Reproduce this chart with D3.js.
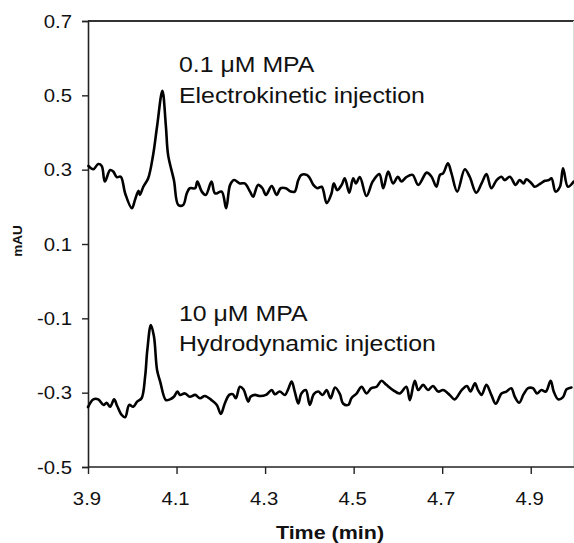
<!DOCTYPE html>
<html>
<head>
<meta charset="utf-8">
<script src="https://cdn.jsdelivr.net/npm/d3@7"></script>
<style>
  html, body { margin: 0; padding: 0; background: #fff; }
  svg { display: block; }
  text { font-family: "Liberation Sans", Arial, Helvetica, sans-serif; fill: #111; }
</style>
</head>
<body>
<svg id="chart" width="574" height="543"></svg>
<script>
// ---------------- data ----------------
const xTicks = [3.9, 4.1, 4.3, 4.5, 4.7, 4.9];
const yTicks = [0.7, 0.5, 0.3, 0.1, -0.1, -0.3, -0.5];
const xLabel = "Time (min)";
const yLabel = "mAU";
const annotations = [
  ["0.1 \u03bcM MPA", "Electrokinetic injection"],
  ["10 \u03bcM MPA", "Hydrodynamic injection"]
];

// Electrokinetic injection trace (time, mAU)
const electroTime = [3.901,3.912,3.923,3.931,3.938,3.950,3.957,3.965,3.974,3.984,3.999,4.006,4.014,4.017,4.025,4.036,4.047,4.056,4.068,4.076,4.081,4.094,4.104,4.115,4.123,4.130,4.142,4.147,4.157,4.166,4.179,4.187,4.202,4.212,4.221,4.230,4.243,4.254,4.266,4.273,4.284,4.294,4.302,4.315,4.326,4.335,4.347,4.358,4.367,4.375,4.382,4.394,4.401,4.409,4.418,4.428,4.439,4.450,4.455,4.463,4.473,4.480,4.490,4.499,4.505,4.514,4.529,4.543,4.558,4.567,4.578,4.589,4.600,4.608,4.619,4.633,4.646,4.665,4.676,4.687,4.695,4.702,4.713,4.721,4.734,4.751,4.762,4.777,4.789,4.800,4.811,4.823,4.834,4.841,4.853,4.866,4.875,4.884,4.890,4.902,4.909,4.920,4.932,4.941,4.947,4.956,4.966,4.973,4.984,4.997];
const electroValue = [0.310,0.301,0.315,0.310,0.268,0.299,0.295,0.280,0.281,0.236,0.196,0.218,0.243,0.232,0.254,0.277,0.339,0.416,0.512,0.416,0.339,0.272,0.205,0.205,0.236,0.250,0.250,0.268,0.241,0.232,0.268,0.236,0.241,0.196,0.259,0.272,0.263,0.263,0.241,0.227,0.259,0.250,0.232,0.256,0.232,0.250,0.250,0.241,0.241,0.272,0.286,0.286,0.277,0.259,0.250,0.254,0.210,0.236,0.263,0.245,0.259,0.277,0.238,0.277,0.263,0.280,0.229,0.268,0.288,0.250,0.295,0.263,0.281,0.268,0.280,0.286,0.259,0.292,0.281,0.254,0.286,0.290,0.317,0.290,0.241,0.301,0.281,0.238,0.263,0.288,0.250,0.272,0.281,0.272,0.281,0.259,0.272,0.263,0.274,0.263,0.254,0.261,0.270,0.272,0.277,0.241,0.254,0.304,0.254,0.268];

// Hydrodynamic injection trace (time, mAU)
const hydroTime = [3.900,3.912,3.923,3.935,3.942,3.950,3.959,3.966,3.976,3.984,3.993,4.002,4.011,4.021,4.029,4.034,4.042,4.049,4.056,4.063,4.076,4.085,4.094,4.102,4.108,4.119,4.130,4.142,4.153,4.164,4.179,4.191,4.200,4.209,4.219,4.227,4.234,4.243,4.251,4.262,4.267,4.277,4.288,4.302,4.315,4.322,4.333,4.345,4.352,4.360,4.367,4.375,4.382,4.392,4.401,4.410,4.420,4.430,4.439,4.448,4.458,4.469,4.476,4.488,4.495,4.507,4.518,4.529,4.540,4.552,4.563,4.574,4.589,4.604,4.619,4.627,4.638,4.646,4.657,4.668,4.679,4.691,4.702,4.717,4.728,4.744,4.756,4.764,4.774,4.781,4.789,4.800,4.811,4.821,4.834,4.845,4.856,4.864,4.874,4.884,4.894,4.905,4.914,4.924,4.934,4.945,4.952,4.962,4.973,4.981,4.992];
const hydroValue = [-0.339,-0.318,-0.318,-0.333,-0.327,-0.338,-0.318,-0.336,-0.360,-0.366,-0.333,-0.338,-0.324,-0.315,-0.257,-0.185,-0.118,-0.149,-0.239,-0.270,-0.320,-0.318,-0.311,-0.297,-0.306,-0.302,-0.311,-0.306,-0.315,-0.309,-0.320,-0.333,-0.357,-0.329,-0.306,-0.304,-0.315,-0.284,-0.291,-0.324,-0.311,-0.306,-0.309,-0.306,-0.293,-0.304,-0.297,-0.306,-0.291,-0.270,-0.297,-0.329,-0.302,-0.293,-0.333,-0.304,-0.297,-0.306,-0.293,-0.315,-0.286,-0.304,-0.329,-0.333,-0.315,-0.302,-0.284,-0.302,-0.288,-0.284,-0.268,-0.279,-0.293,-0.302,-0.284,-0.320,-0.268,-0.293,-0.279,-0.293,-0.282,-0.297,-0.293,-0.306,-0.318,-0.293,-0.282,-0.297,-0.275,-0.293,-0.306,-0.279,-0.306,-0.330,-0.302,-0.297,-0.288,-0.311,-0.327,-0.304,-0.288,-0.288,-0.302,-0.293,-0.297,-0.268,-0.297,-0.318,-0.312,-0.291,-0.286];

// ---------------- drawing ----------------
(function () {
const svg = d3.select("#chart");
const SX = 1.13; // horizontal stretch of the lettering in the reference
const mLeft = 88, mRight = 575, mTop = 21, mBottom = 467;

const x = d3.scaleLinear().domain([3.9, 5.0]).range([mLeft, mRight]);
const y = d3.scaleLinear().domain([-0.5, 0.7]).range([mBottom, mTop]);
const fmt = v => d3.format(".1f")(v).replace("\u2212", "-");

function stretchedText(g, px, py, str, opts) {
  const t = g.append("g").attr("transform", `translate(${px},${py}) scale(${SX},1)`)
    .append("text").text(str);
  Object.entries(opts || {}).forEach(([k, v]) => t.style(k, v));
  return t;
}

// top frame line
svg.append("line")
  .attr("x1", mLeft).attr("x2", 574).attr("y1", mTop).attr("y2", mTop)
  .attr("stroke", "#333").attr("stroke-width", 1.8);
// faint right frame
svg.append("line")
  .attr("x1", 573.5).attr("x2", 573.5).attr("y1", mTop).attr("y2", mBottom)
  .attr("stroke", "#ddd").attr("stroke-width", 1);

// Y axis
const yAxis = svg.append("g").attr("transform", `translate(${mLeft},0)`)
  .call(d3.axisLeft(y).tickValues(yTicks).tickSize(6).tickFormat(() => ""));
yAxis.select(".domain").attr("stroke", "#222").attr("stroke-width", 1.6);
yAxis.selectAll(".tick line").attr("stroke", "#222").attr("stroke-width", 1.4);
yTicks.forEach(v => {
  stretchedText(svg, 72, y(v) + 6.5, fmt(v),
    {"font-size": "18px", "text-anchor": "end"});
});

// X axis
const xAxis = svg.append("g").attr("transform", `translate(0,${mBottom})`)
  .call(d3.axisBottom(x).tickValues(xTicks).tickSize(7).tickFormat(() => ""));
xAxis.select(".domain").attr("stroke", "#222").attr("stroke-width", 1.6)
  .attr("d", `M${mLeft},0H574`);
xAxis.selectAll(".tick line").attr("stroke", "#222").attr("stroke-width", 1.4);
xTicks.forEach(v => {
  stretchedText(svg, x(v) - 1, 505, fmt(v),
    {"font-size": "18px", "text-anchor": "middle"});
});

// axis titles
stretchedText(svg, 330, 539, xLabel,
  {"font-size": "19px", "font-weight": "bold", "text-anchor": "middle"});
svg.append("text")
  .attr("transform", "translate(21.5,241) rotate(-90)")
  .attr("text-anchor", "middle")
  .style("font-size", "13.5px").style("font-weight", "bold")
  .text(yLabel);

// traces
const line = d3.line().x(d => x(d[0])).y(d => y(d[1])).curve(d3.curveCatmullRom.alpha(0.5));
const electro = electroTime.map((t, i) => [t, electroValue[i]]);
const hydro = hydroTime.map((t, i) => [t, hydroValue[i]]);
[electro, hydro].forEach(data => {
  svg.append("path").datum(data)
    .attr("d", line)
    .attr("fill", "none")
    .attr("stroke", "#000")
    .attr("stroke-width", 2.6)
    .attr("stroke-linejoin", "round")
    .attr("stroke-linecap", "round");
});

// annotations
const annBase = [[72.3, 103.3], [320.7, 350.7]];
annotations.forEach((lines, i) => {
  lines.forEach((s, j) => {
    stretchedText(svg, 179, annBase[i][j], s, {"font-size": "22px"});
  });
});
})();
</script>
</body>
</html>
